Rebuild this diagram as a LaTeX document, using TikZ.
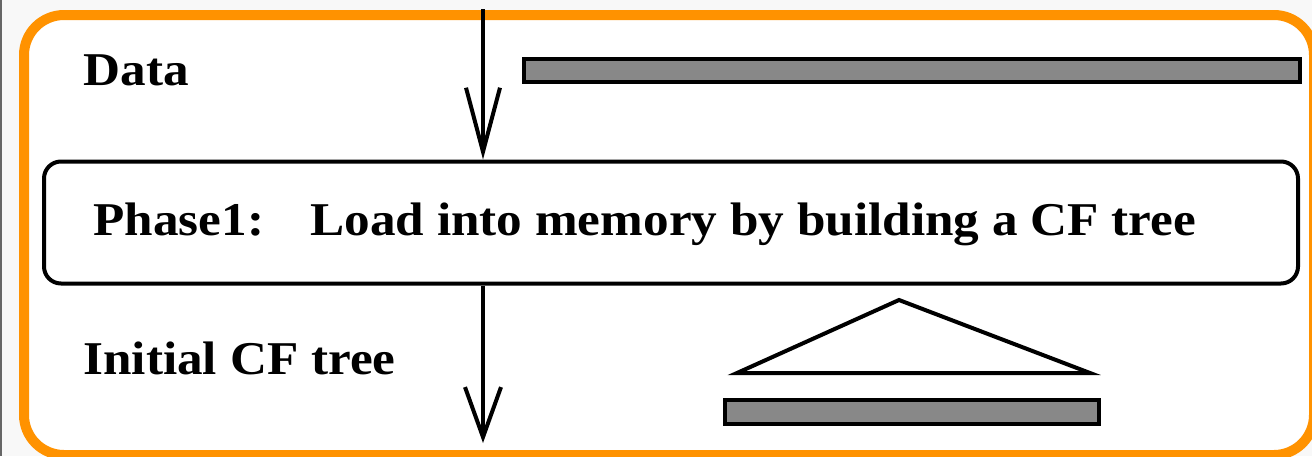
\documentclass[tikz,border=0pt]{standalone}
\usepackage{fontspec}
\setmainfont{Liberation Serif}[FakeStretch=1.09]
\usetikzlibrary{arrows.meta}
\definecolor{orng}{HTML}{FF9200}
\definecolor{barg}{HTML}{888888}
\definecolor{bgg}{HTML}{F8F8F8}
\begin{document}
\begin{tikzpicture}[x=0.5pt,y=-0.5pt,
  lbl/.style={anchor=base west,inner sep=0pt,font=\fontsize{23.5}{27}\selectfont\bfseries},
  bar/.style={draw=black,line width=2.2pt,fill=barg,inner sep=0pt},
  flowA/.style={line width=2pt,-{Straight Barb[length=32pt,width=17pt,line width=2pt]}},
  flowB/.style={line width=2pt,-{Straight Barb[length=25pt,width=18pt,line width=2pt]}}]
\useasboundingbox (0,0) rectangle (1312,456);
\fill[bgg] (0,0) rectangle (1312,456);
\fill[black!60] (0,0) rectangle (1.5,456);
\draw[orng,line width=5pt,fill=white,rounded corners=20pt] (24,15) rectangle (1314,455);

\node[draw,line width=2pt,rounded corners=8.5pt,minimum width=627pt,minimum height=61pt,inner sep=0pt] (phase) at (671,222.5) {};
\node[lbl] (data) at (83,85) {Data};
\node[lbl] (p1) at (93,235) {Phase1:};
\node[lbl] (p2) at (310,235) {Load into memory by building a CF tree};
\node[lbl] (init) at (83,374) {Initial CF tree};

\node[bar,minimum width=388pt,minimum height=11.5pt] (dbar) at (912,70.5) {};
\node[bar,minimum width=187pt,minimum height=12pt] (tbar) at (912,412) {};
\draw[line width=2pt,line join=miter] (899,300) -- (1090,373) -- (737,373) -- cycle;

\coordinate (atop) at (483,9);
\coordinate (abot) at (483,443);
\draw[flowA] (atop) -- (atop |- phase.north);
\draw[flowB] (abot |- phase.south) -- (abot);
\end{tikzpicture}
\end{document}
